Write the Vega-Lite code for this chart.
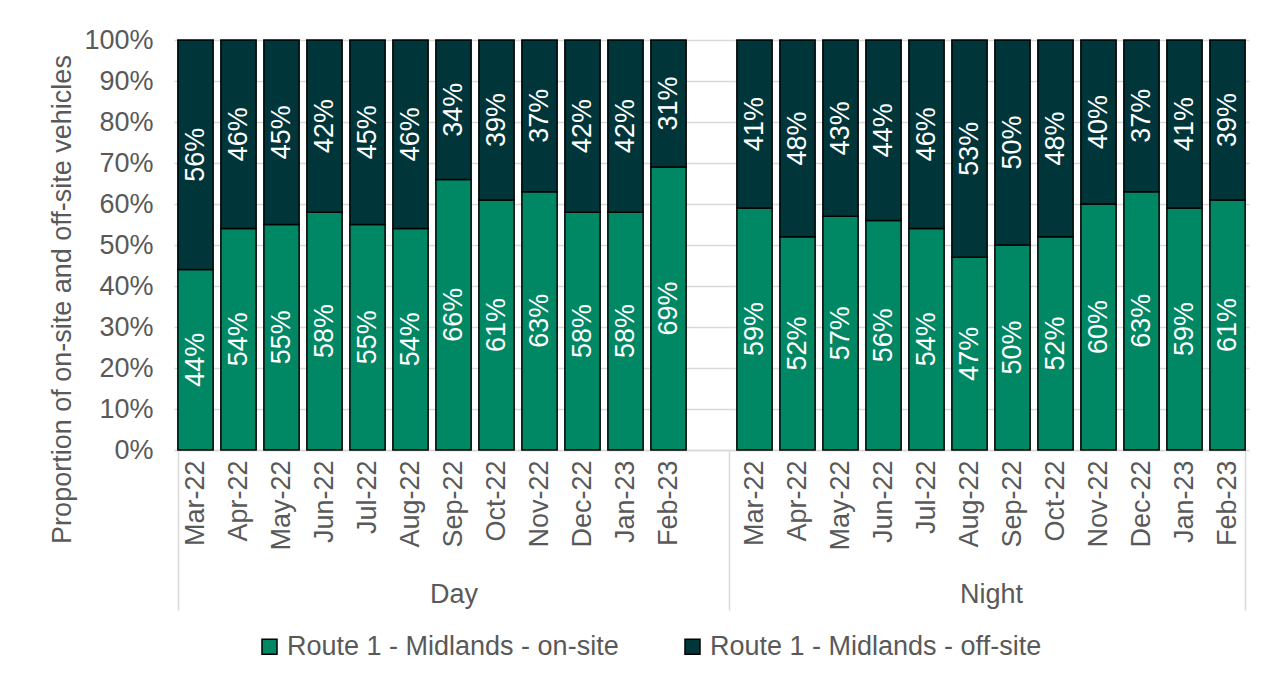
{
  "$schema": "https://vega.github.io/schema/vega-lite/v6.json",
  "padding": {"left": 48, "top": 26, "right": 5, "bottom": 5},
  "background": "white",
  "data": {"values": [
    {"period": "Day", "month": "Mar-22", "series": "Route 1 - Midlands - on-site", "share": 0.44},
    {"period": "Day", "month": "Apr-22", "series": "Route 1 - Midlands - on-site", "share": 0.54},
    {"period": "Day", "month": "May-22", "series": "Route 1 - Midlands - on-site", "share": 0.55},
    {"period": "Day", "month": "Jun-22", "series": "Route 1 - Midlands - on-site", "share": 0.58},
    {"period": "Day", "month": "Jul-22", "series": "Route 1 - Midlands - on-site", "share": 0.55},
    {"period": "Day", "month": "Aug-22", "series": "Route 1 - Midlands - on-site", "share": 0.54},
    {"period": "Day", "month": "Sep-22", "series": "Route 1 - Midlands - on-site", "share": 0.66},
    {"period": "Day", "month": "Oct-22", "series": "Route 1 - Midlands - on-site", "share": 0.61},
    {"period": "Day", "month": "Nov-22", "series": "Route 1 - Midlands - on-site", "share": 0.63},
    {"period": "Day", "month": "Dec-22", "series": "Route 1 - Midlands - on-site", "share": 0.58},
    {"period": "Day", "month": "Jan-23", "series": "Route 1 - Midlands - on-site", "share": 0.58},
    {"period": "Day", "month": "Feb-23", "series": "Route 1 - Midlands - on-site", "share": 0.69},
    {"period": "Day", "month": "Mar-22", "series": "Route 1 - Midlands - off-site", "share": 0.56},
    {"period": "Day", "month": "Apr-22", "series": "Route 1 - Midlands - off-site", "share": 0.46},
    {"period": "Day", "month": "May-22", "series": "Route 1 - Midlands - off-site", "share": 0.45},
    {"period": "Day", "month": "Jun-22", "series": "Route 1 - Midlands - off-site", "share": 0.42},
    {"period": "Day", "month": "Jul-22", "series": "Route 1 - Midlands - off-site", "share": 0.45},
    {"period": "Day", "month": "Aug-22", "series": "Route 1 - Midlands - off-site", "share": 0.46},
    {"period": "Day", "month": "Sep-22", "series": "Route 1 - Midlands - off-site", "share": 0.34},
    {"period": "Day", "month": "Oct-22", "series": "Route 1 - Midlands - off-site", "share": 0.39},
    {"period": "Day", "month": "Nov-22", "series": "Route 1 - Midlands - off-site", "share": 0.37},
    {"period": "Day", "month": "Dec-22", "series": "Route 1 - Midlands - off-site", "share": 0.42},
    {"period": "Day", "month": "Jan-23", "series": "Route 1 - Midlands - off-site", "share": 0.42},
    {"period": "Day", "month": "Feb-23", "series": "Route 1 - Midlands - off-site", "share": 0.31},
    {"period": "Night", "month": "Mar-22", "series": "Route 1 - Midlands - on-site", "share": 0.59},
    {"period": "Night", "month": "Apr-22", "series": "Route 1 - Midlands - on-site", "share": 0.52},
    {"period": "Night", "month": "May-22", "series": "Route 1 - Midlands - on-site", "share": 0.57},
    {"period": "Night", "month": "Jun-22", "series": "Route 1 - Midlands - on-site", "share": 0.56},
    {"period": "Night", "month": "Jul-22", "series": "Route 1 - Midlands - on-site", "share": 0.54},
    {"period": "Night", "month": "Aug-22", "series": "Route 1 - Midlands - on-site", "share": 0.47},
    {"period": "Night", "month": "Sep-22", "series": "Route 1 - Midlands - on-site", "share": 0.50},
    {"period": "Night", "month": "Oct-22", "series": "Route 1 - Midlands - on-site", "share": 0.52},
    {"period": "Night", "month": "Nov-22", "series": "Route 1 - Midlands - on-site", "share": 0.60},
    {"period": "Night", "month": "Dec-22", "series": "Route 1 - Midlands - on-site", "share": 0.63},
    {"period": "Night", "month": "Jan-23", "series": "Route 1 - Midlands - on-site", "share": 0.59},
    {"period": "Night", "month": "Feb-23", "series": "Route 1 - Midlands - on-site", "share": 0.61},
    {"period": "Night", "month": "Mar-22", "series": "Route 1 - Midlands - off-site", "share": 0.41},
    {"period": "Night", "month": "Apr-22", "series": "Route 1 - Midlands - off-site", "share": 0.48},
    {"period": "Night", "month": "May-22", "series": "Route 1 - Midlands - off-site", "share": 0.43},
    {"period": "Night", "month": "Jun-22", "series": "Route 1 - Midlands - off-site", "share": 0.44},
    {"period": "Night", "month": "Jul-22", "series": "Route 1 - Midlands - off-site", "share": 0.46},
    {"period": "Night", "month": "Aug-22", "series": "Route 1 - Midlands - off-site", "share": 0.53},
    {"period": "Night", "month": "Sep-22", "series": "Route 1 - Midlands - off-site", "share": 0.50},
    {"period": "Night", "month": "Oct-22", "series": "Route 1 - Midlands - off-site", "share": 0.48},
    {"period": "Night", "month": "Nov-22", "series": "Route 1 - Midlands - off-site", "share": 0.40},
    {"period": "Night", "month": "Dec-22", "series": "Route 1 - Midlands - off-site", "share": 0.37},
    {"period": "Night", "month": "Jan-23", "series": "Route 1 - Midlands - off-site", "share": 0.41},
    {"period": "Night", "month": "Feb-23", "series": "Route 1 - Midlands - off-site", "share": 0.39}
  ]},
  "spacing": 0,
  "bounds": "flush",
  "resolve": {"scale": {"y": "shared", "color": "shared"}},
  "hconcat": [
    {
      "width": {"step": 43.0},
      "height": 410,
      "transform": [
        {"filter": "datum.period === 'Day'"},
        {"stack": "share", "groupby": ["month"], "sort": [{"field": "series", "order": "descending"}], "as": ["y0", "y1"]},
        {"calculate": "(datum.y0 + datum.y1) / 2", "as": "ymid"}
      ],
      "encoding": {
        "x": {
          "field": "month", "type": "nominal",
          "scale": {"domain": ["Mar-22","Apr-22","May-22","Jun-22","Jul-22","Aug-22","Sep-22","Oct-22","Nov-22","Dec-22","Jan-23","Feb-23"," "]},
          "axis": {
            "title": "Day", "titleY": 144, "titleBaseline": "middle",
            "labelAngle": -90, "labelPadding": -150,
            "ticks": true, "tickBand": "extent", "tickSize": 160, "tickColor": "#d9d9d9", "tickWidth": 1.5,
            "tickOpacity": {"condition": {"test": "!datum.value || datum.value === ' '", "value": 1}, "value": 0}
          }
        }
      },
      "layer": [
        {
          "mark": {"type": "bar", "stroke": "black", "strokeWidth": 1.5},
          "encoding": {
            "y": {"field": "y0", "type": "quantitative", "scale": {"domain": [0, 1]},
              "axis": {"title": "Proportion of on-site and off-site vehicles", "titleY": 259, "format": ".0%", "values": [0,0.1,0.2,0.3,0.4,0.5,0.6,0.7,0.8,0.9,1], "grid": true, "ticks": false, "domain": false, "labelPadding": 21, "titlePadding": 7}},
            "y2": {"field": "y1"},
            "color": {"field": "series", "type": "nominal",
              "scale": {"domain": ["Route 1 - Midlands - on-site", "Route 1 - Midlands - off-site"], "range": ["#008764", "#00363a"]},
              "legend": {"title": null, "orient": "bottom", "direction": "horizontal"}}
          }
        },
        {
          "mark": {"type": "text", "angle": 270, "align": "center", "baseline": "middle", "color": "white", "fontSize": 27},
          "encoding": {
            "y": {"field": "ymid", "type": "quantitative"},
            "text": {"field": "share", "type": "quantitative", "format": ".0%"}
          }
        }
      ]
    },
    {
      "width": {"step": 43.0},
      "height": 410,
      "transform": [
        {"filter": "datum.period === 'Night'"},
        {"stack": "share", "groupby": ["month"], "sort": [{"field": "series", "order": "descending"}], "as": ["y0", "y1"]},
        {"calculate": "(datum.y0 + datum.y1) / 2", "as": "ymid"}
      ],
      "encoding": {
        "x": {
          "field": "month", "type": "nominal",
          "scale": {"domain": ["Mar-22","Apr-22","May-22","Jun-22","Jul-22","Aug-22","Sep-22","Oct-22","Nov-22","Dec-22","Jan-23","Feb-23"]},
          "axis": {
            "title": "Night", "titleY": 144, "titleBaseline": "middle",
            "labelAngle": -90, "labelPadding": -150,
            "ticks": true, "tickBand": "extent", "tickSize": 160, "tickColor": "#d9d9d9", "tickWidth": 1.5,
            "tickOpacity": {"condition": {"test": "datum.value === 'Feb-23'", "value": 1}, "value": 0}
          }
        }
      },
      "layer": [
        {
          "mark": {"type": "bar", "stroke": "black", "strokeWidth": 1.5},
          "encoding": {
            "y": {"field": "y0", "type": "quantitative", "scale": {"domain": [0, 1]},
              "axis": {"title": null, "labels": false, "values": [0,0.1,0.2,0.3,0.4,0.5,0.6,0.7,0.8,0.9,1], "grid": true, "ticks": false, "domain": false, "labelPadding": 0, "minExtent": 0, "maxExtent": 0}},
            "y2": {"field": "y1"},
            "color": {"field": "series", "type": "nominal",
              "scale": {"domain": ["Route 1 - Midlands - on-site", "Route 1 - Midlands - off-site"], "range": ["#008764", "#00363a"]},
              "legend": {"title": null, "orient": "bottom", "direction": "horizontal"}}
          }
        },
        {
          "mark": {"type": "text", "angle": 270, "align": "center", "baseline": "middle", "color": "white", "fontSize": 27},
          "encoding": {
            "y": {"field": "ymid", "type": "quantitative"},
            "text": {"field": "share", "type": "quantitative", "format": ".0%"}
          }
        }
      ]
    }
  ],
  "config": {
    "font": "Liberation Sans",
    "view": {"stroke": null},
    "concat": {"spacing": 0},
    "scale": {"bandPaddingInner": 0.18},
    "axis": {
      "labelFont": "Liberation Sans", "titleFont": "Liberation Sans",
      "labelFontSize": 27, "titleFontSize": 27, "labelColor": "#595959", "titleColor": "#595959",
      "titleFontWeight": "normal", "gridColor": "#d9d9d9", "gridWidth": 1.5, "domainColor": "#d9d9d9", "domainWidth": 1.5,
      "labelOverlap": false, "labelFlush": false
    },
    "legend": {
      "labelFont": "Liberation Sans", "labelFontSize": 27, "labelColor": "#595959",
      "symbolType": "square", "symbolSize": 225, "symbolStrokeColor": "black", "symbolStrokeWidth": 1.5,
      "columnPadding": 60, "labelLimit": 600, "offset": 22, "symbolOffset": 0, "labelOffset": 4,
      "layout": {"bottom": {"anchor": "middle"}}
    }
  }
}
